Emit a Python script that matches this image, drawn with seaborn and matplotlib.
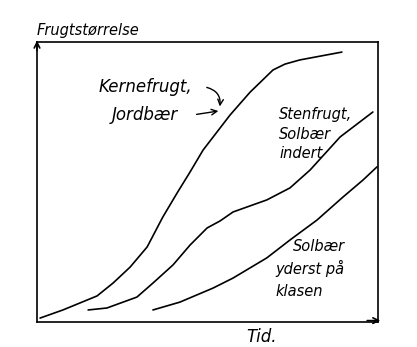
import matplotlib
matplotlib.use("Agg")
import matplotlib.pyplot as plt
import seaborn as sns
import pandas as pd

# Data (arbitrary units, 0-100)
kerne_x = [0.9, 7.6, 17.6, 22.3, 27.3, 32.3, 36.9, 41.1, 44.9, 48.7, 56.6, 62.5, 69.2, 72.7, 77.1, 89.4]
kerne_y = [1.4, 4.3, 9.3, 13.9, 19.6, 26.8, 37.5, 46.1, 53.6, 61.4, 73.9, 82.1, 90.0, 92.1, 93.6, 96.4]
sten_x = [15.0, 20.5, 29.3, 34.0, 39.9, 44.9, 49.9, 53.7, 57.5, 67.4, 74.2, 80.1, 88.9, 98.5]
sten_y = [4.3, 5.0, 8.9, 13.9, 20.4, 27.5, 33.6, 36.1, 39.3, 43.6, 47.9, 54.3, 66.1, 75.0]
yderst_x = [34.0, 41.9, 51.6, 57.5, 67.4, 74.2, 82.1, 89.7, 95.6, 99.7]
yderst_y = [4.3, 7.1, 12.1, 15.7, 22.9, 29.3, 36.4, 44.6, 50.7, 55.4]

sns.set_style("white")
plt.rcParams['font.family'] = ['DejaVu Sans']
plt.rcParams['text.color'] = 'black'

fig = plt.figure(figsize=(4.17, 3.47), dpi=100)
ax = fig.add_axes([37/417, 25/347, 341/417, 280/347])

for xs, ys in [(kerne_x, kerne_y), (sten_x, sten_y), (yderst_x, yderst_y)]:
    df = pd.DataFrame({"x": xs, "y": ys})
    sns.lineplot(data=df, x="x", y="y", ax=ax, color="black", linewidth=1.2, sort=False)

ax.set_xlim(0, 100)
ax.set_ylim(0, 100)
ax.set_xticks([])
ax.set_yticks([])
ax.set_xlabel("")
ax.set_ylabel("")
for s in ax.spines.values():
    s.set_color("black")
    s.set_linewidth(1.2)

# axis arrows
ax.annotate("", xy=(101.5, 0.5), xytext=(96, 0.5), xycoords="data",
            arrowprops=dict(arrowstyle="->", color="black", lw=1.2), annotation_clip=False)
ax.annotate("", xy=(0, 101.5), xytext=(0, 96), xycoords="data",
            arrowprops=dict(arrowstyle="->", color="black", lw=1.2), annotation_clip=False)

tk = dict(fontstyle="italic", color="black")
fig.text(37/417, 1 - 30/347, "Frugtstørrelse", ha="left", va="center", fontsize=10.5, **tk)
fig.text(262/417, 1 - 337/347, "Tid.", ha="center", va="center", fontsize=12, **tk)

ax.text(18, 84, "Kernefrugt,", ha="left", va="center", fontsize=12, **tk)
ax.text(22, 74, "Jordbær", ha="left", va="center", fontsize=12, **tk)
ax.annotate("", xy=(53.5, 76), xytext=(49, 84),
            arrowprops=dict(arrowstyle="->", color="black", lw=1, connectionstyle="arc3,rad=-0.5"))
ax.annotate("", xy=(54, 75.5), xytext=(46, 74),
            arrowprops=dict(arrowstyle="->", color="black", lw=1))

ax.text(71, 74, "Stenfrugt,", ha="left", va="center", fontsize=10.5, **tk)
ax.text(71, 67, "Solbær", ha="left", va="center", fontsize=10.5, **tk)
ax.text(71, 60, "indert", ha="left", va="center", fontsize=10.5, **tk)

ax.text(75, 27, "Solbær", ha="left", va="center", fontsize=10.5, **tk)
ax.text(70, 19, "yderst på", ha="left", va="center", fontsize=10.5, **tk)
ax.text(70, 11, "klasen", ha="left", va="center", fontsize=10.5, **tk)

fig.savefig("out.png", dpi=100)
